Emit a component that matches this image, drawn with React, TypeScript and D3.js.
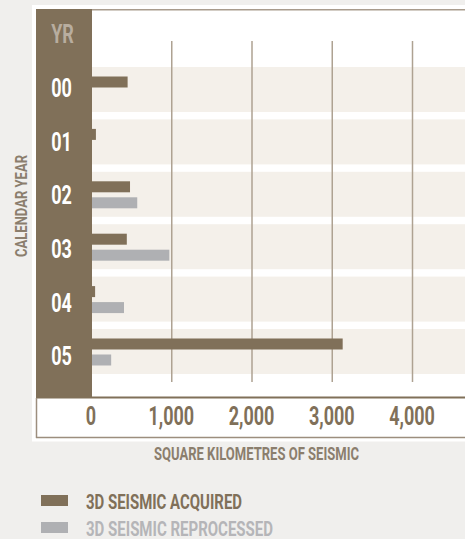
import React from "react";
import * as d3 from "d3";

const years = ["00", "01", "02", "03", "04", "05"];
const acquired = [450, 55, 480, 440, 45, 3130];
const reprocessed = [0, 0, 570, 970, 405, 245];
const tickValues = [0, 1000, 2000, 3000, 4000];
const gridValues = [1000, 2000, 3000, 4000];
const seriesNames = ["3D SEISMIC ACQUIRED", "3D SEISMIC REPROCESSED"];
const yearHeader = "YR";
const yTitle = "CALENDAR YEAR";
const xTitle = "SQUARE KILOMETRES OF SEISMIC";

const W = 465;
const H = 539;
const BROWN = "#807059";
const GREY = "#afb0b3";
const BAND = "#f4f0ea";
const PAGE = "#f0efed";
const FONT = "Roboto, 'DejaVu Sans', sans-serif";

export default function App() {
  const x = d3.scaleLinear().domain([0, 4000]).range([91.5, 412.5]);
  const band = d3.scaleBand<string>().domain(years).range([67, 374]).paddingInner(0.141).paddingOuter(0);
  const labelBand = d3.scaleBand<string>().domain(years).range([61, 383]).padding(0);
  const fmt = d3.format(",");
  const sx = 0.72;

  return (
    <svg width={W} height={H} style={{ position: "absolute", left: 0, top: 0 }} fontFamily={FONT}>
      <rect x={0} y={0} width={W} height={H} fill={PAGE} />
      <rect x={32} y={5} width={W - 32} height={436.5} fill="#ffffff" />

      {years.map((yr) => (
        <rect key={"b" + yr} x={92} y={band(yr)} width={W - 92} height={band.bandwidth()} fill={BAND} />
      ))}

      {gridValues.map((v) => (
        <line key={"g" + v} x1={x(v)} x2={x(v)} y1={41} y2={382} stroke="#aea292" strokeWidth={1.5} />
      ))}

      {years.map((yr, i) => (
        <g key={"bars" + yr}>
          {acquired[i] > 0 && (
            <rect x={x(0)} y={(band(yr) as number) + 9.5} width={x(acquired[i]) - x(0)} height={11} fill={BROWN} />
          )}
          {reprocessed[i] > 0 && (
            <rect x={x(0) - 0.5} y={(band(yr) as number) + 25.5} width={x(reprocessed[i]) - x(0) + 0.5} height={11} fill={GREY} />
          )}
        </g>
      ))}

      {/* frame */}
      <rect x={36} y={9} width={56} height={389} fill={BROWN} />
      <line x1={92} x2={W} y1={9.75} y2={9.75} stroke="#a89b8c" strokeWidth={1.5} />
      <line x1={36} x2={W} y1={397.5} y2={397.5} stroke={BROWN} strokeWidth={2} />
      <line x1={36.5} x2={36.5} y1={398} y2={438} stroke="#9c8e7e" strokeWidth={1.5} />
      <line x1={36} x2={W} y1={437.5} y2={437.5} stroke="#9c8e7e" strokeWidth={1.5} />

      <text transform={`translate(62.5,43) scale(${sx},1)`} textAnchor="middle" fontSize={25} fontWeight={700} fill="#b8ad9f">
        {yearHeader}
      </text>

      {years.map((yr) => (
        <text
          key={"l" + yr}
          transform={`translate(61.5,${(labelBand(yr) as number) + labelBand.bandwidth() / 2 + 9}) scale(${sx},1)`}
          textAnchor="middle"
          fontSize={25}
          fontWeight={700}
          fill="#ffffff"
        >
          {yr}
        </text>
      ))}

      {tickValues.map((v) => (
        <text
          key={"t" + v}
          transform={`translate(${x(v) - 0.5},425) scale(${sx},1)`}
          textAnchor="middle"
          fontSize={25}
          fontWeight={700}
          fill={BROWN}
        >
          {fmt(v)}
        </text>
      ))}

      <text
        transform="translate(27,206) rotate(-90)"
        textAnchor="middle"
        fontSize={17}
        fontWeight={700}
        fill="#8b7e6d"
        textLength={102}
        lengthAdjust="spacingAndGlyphs"
      >
        {yTitle}
      </text>

      <text
        x={256.5}
        y={460}
        textAnchor="middle"
        fontSize={18}
        fontWeight={700}
        fill="#8b7e6d"
        textLength={205}
        lengthAdjust="spacingAndGlyphs"
      >
        {xTitle}
      </text>

      {seriesNames.map((name, i) => (
        <g key={"lg" + i}>
          <rect x={41} y={495 + i * 27} width={27} height={11} fill={i === 0 ? BROWN : GREY} />
          <text
            x={86}
            y={509 + i * 27}
            fontSize={20}
            fontWeight={700}
            fill={i === 0 ? BROWN : "#b5b5b8"}
            textLength={i === 0 ? 156 : 187}
            lengthAdjust="spacingAndGlyphs"
          >
            {name}
          </text>
        </g>
      ))}
    </svg>
  );
}
